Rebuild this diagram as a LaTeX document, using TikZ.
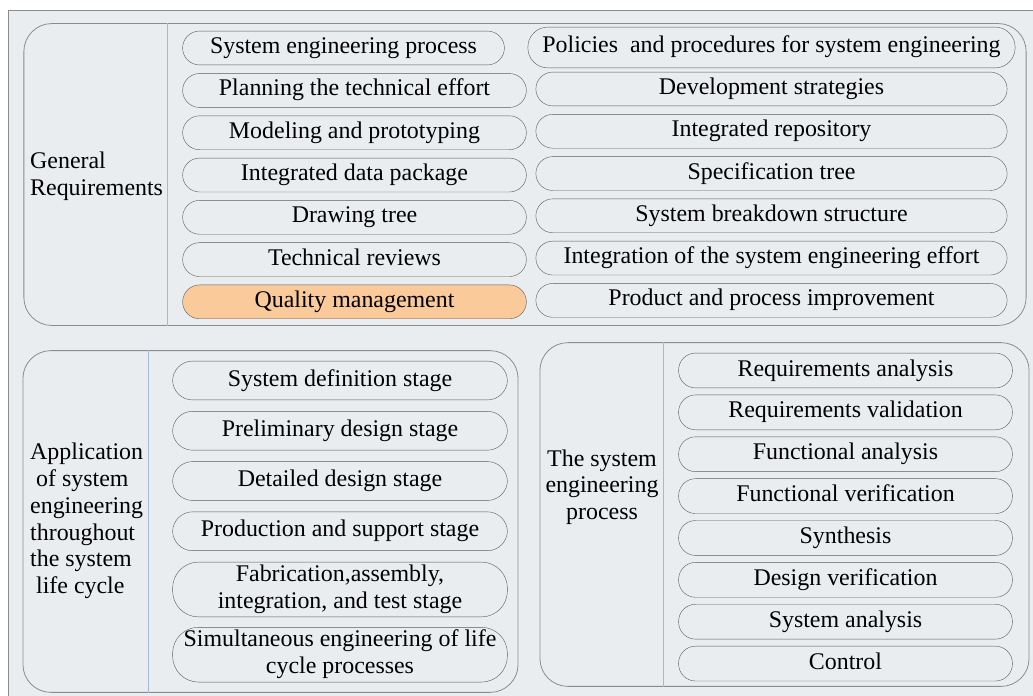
\documentclass[tikz,border=0pt]{standalone}
\usepackage{fontspec}
\setmainfont{Liberation Serif}
\usetikzlibrary{positioning}
\definecolor{my_bg}{RGB}{233, 237, 240}
\definecolor{my_line}{RGB}{140, 140, 140}
\definecolor{my_pill}{RGB}{90, 90, 90}
\definecolor{my_orange}{RGB}{250, 202, 155}
\definecolor{my_divider}{RGB}{160, 185, 220}
\tikzset {
  bigbox/.style = {draw=my_line, thick, rectangle, rounded corners=28, inner sep=0},
  pill/.style = {draw=my_pill, fill=my_bg, rectangle, rounded corners=17, minimum height=34, inner sep=0, align=center, text height=16bp, text depth=5bp},
  pilltall/.style = {pill, rounded corners=20, minimum height=39},
  pilltwo/.style = {pill, rounded corners=26, minimum height=55, text height=42.8bp},
  label/.style = {inner sep=0, anchor=west},
  divider/.style = {draw=my_divider, thick}
}
\begin{document}
\begin{tikzpicture}[x=1bp, y=-1bp, font=\fontsize{24}{26.8}\selectfont, node distance=8bp]

    \useasboundingbox (0,0) rectangle (1033,696);
    \fill[my_bg] (8,10) rectangle (1033,696);
    \draw[my_line] (8,696) -- (8,10) -- (1033,10);

    % General requirements
    \node[bigbox, minimum width=1006, minimum height=303] (gen) at (525,174.5) {};
    \coordinate (gendiv) at (167,0);
    \draw[divider] (gendiv |- gen.north) -- (gendiv |- gen.south);
    \node[label, align=left] (genlabel) at (30,176) {General\\Requirements};

    \node[pill, minimum width=323] (sep) at (343.5,48) {System engineering process};
    \node[pill, minimum width=345] (pte) at (354.5,90.5) {Planning the technical effort};
    \node[pill, minimum width=345, below=of pte] (mp) {Modeling and prototyping};
    \node[pill, minimum width=345, below=of mp] (idp) {Integrated data package};
    \node[pill, minimum width=345, below=of idp] (dt) {Drawing tree};
    \node[pill, minimum width=345, below=of dt] (tr) {Technical reviews};
    \node[pill, minimum width=345, fill=my_orange, below=of tr] (qm) {Quality management};

    \node[pill, minimum width=489, minimum height=41, rounded corners=20] (pps) at (771.5,47.5) {Policies\ \ and procedures for system engineering};
    \node[pill, minimum width=473] (ds) at (771.5,89) {Development strategies};
    \node[pill, minimum width=473, below=of ds] (ir) {Integrated repository};
    \node[pill, minimum width=473, below=of ir] (st) {Specification tree};
    \node[pill, minimum width=473, below=of st] (sbs) {System breakdown structure};
    \node[pill, minimum width=473, below=of sbs] (ise) {Integration of the system engineering effort};
    \node[pill, minimum width=473, below=of ise] (ppi) {Product and process improvement};

    % Application throughout the life cycle
    \node[bigbox, minimum width=497, minimum height=343] (app) at (270.5,521.5) {};
    \coordinate (appdiv) at (148,0);
    \draw[divider] (appdiv |- app.north) -- (appdiv |- app.south);
    \node[label, align=left] (applabel) at (30,521) {Application\\\ of system\\engineering\\throughout\\the system\\\ life cycle};

    \node[pilltall, minimum width=336] (sds) at (340,380.5) {System definition stage};
    \node[pilltall, minimum width=336, below=11bp of sds] (pds) {Preliminary design stage};
    \node[pilltall, minimum width=336, below=11bp of pds] (dds) {Detailed design stage};
    \node[pilltall, minimum width=336, below=11bp of dds] (pss) {Production and support stage};
    \node[pilltwo, minimum width=336] (fai) at (340,589.5) {Fabrication,assembly,\\integration, and test stage};
    \node[pilltwo, minimum width=336, below=10bp of fai] (sel) {Simultaneous engineering of life\\cycle processes};

    % The system engineering process
    \node[bigbox, minimum width=491, minimum height=345] (sys) at (784.5,514.5) {};
    \coordinate (sysdiv) at (663,0);
    \draw[divider] (sysdiv |- sys.north) -- (sysdiv |- sys.south);
    \node[inner sep=0, align=center] (syslabel) at (602,487) {The system\\engineering\\process};

    \node[pill, minimum width=335, minimum height=35] (ra) at (845.5,370.5) {Requirements analysis};
    \node[pill, minimum width=335, minimum height=35, below=6.6bp of ra] (rv) {Requirements validation};
    \node[pill, minimum width=335, minimum height=35, below=6.6bp of rv] (fa) {Functional analysis};
    \node[pill, minimum width=335, minimum height=35, below=6.6bp of fa] (fv) {Functional verification};
    \node[pill, minimum width=335, minimum height=35, below=6.6bp of fv] (syn) {Synthesis};
    \node[pill, minimum width=335, minimum height=35, below=6.6bp of syn] (dv) {Design verification};
    \node[pill, minimum width=335, minimum height=35, below=6.6bp of dv] (sa) {System analysis};
    \node[pill, minimum width=335, minimum height=35, below=6.6bp of sa] (ctl) {Control};

  \end{tikzpicture}
\end{document}
